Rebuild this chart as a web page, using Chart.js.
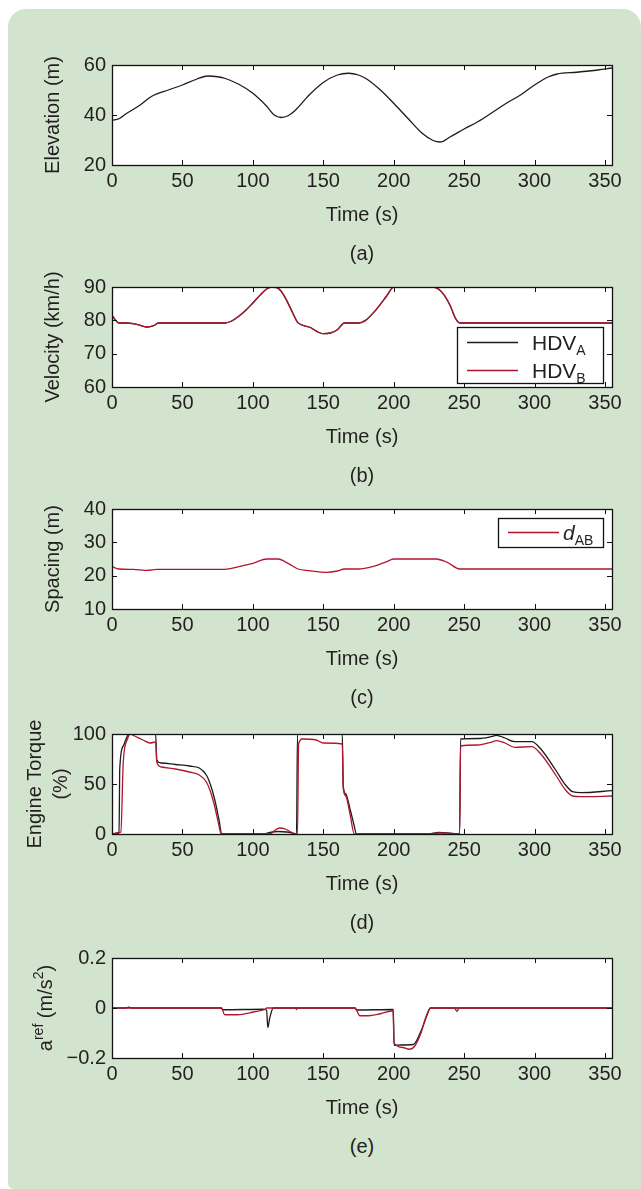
<!DOCTYPE html>
<html>
<head>
<meta charset="utf-8">
<script src="https://cdn.jsdelivr.net/npm/chart.js@4.4.0/dist/chart.umd.min.js"></script>
<style>
  body { margin: 0; background: #fff; width: 641px; height: 1189px; position: relative; overflow: hidden;
         font-family: 'Liberation Sans', Arial, Helvetica, sans-serif; }
  #panel { position: absolute; left: 8px; top: 9px; width: 633px; height: 1180px; background: #d3e4ce;
           border-radius: 18px 18px 0 6px; }
  canvas { position: absolute; left: 0; }
  .cap { position: absolute; left: 112px; width: 500px; text-align: center; font-size: 20px;
         line-height: 24px; color: #231f20; }
</style>
</head>
<body>
<div id="panel"></div>
<canvas id="chA" width="641" height="200" style="top:35px"></canvas>
<canvas id="chB" width="641" height="200" style="top:257px"></canvas>
<canvas id="chC" width="641" height="200" style="top:479px"></canvas>
<canvas id="chD" width="641" height="200" style="top:704px"></canvas>
<canvas id="chE" width="641" height="200" style="top:928px"></canvas>
<div class="cap" style="top:241px">(a)</div>
<div class="cap" style="top:463px">(b)</div>
<div class="cap" style="top:685px">(c)</div>
<div class="cap" style="top:910px">(d)</div>
<div class="cap" style="top:1134px">(e)</div>
<script>
// ---- data ----
var timeTicks = [0, 50, 100, 150, 200, 250, 300, 350];

// (a) elevation
var elevTime = [0, 5, 10, 20, 28, 40, 50, 60, 68, 75, 80, 90, 100, 110, 115, 120, 125, 130, 140, 150,
                160, 168, 175, 180, 190, 200, 210, 220, 228, 233, 240, 250, 260, 270, 280, 290, 300, 310, 316, 330,
                345, 355];
var elevation = [37.9, 38.5, 40.5, 44, 47.4, 50, 52, 54.3, 55.6, 55.3, 54.7, 52.3, 48.7, 43.4, 40.1, 39, 39.7, 41.8, 48, 53,
                 56, 56.7, 56, 54.7, 50.3, 44.7, 38.7, 32.8, 29.8, 29.2, 31.2, 34.4, 37.4, 41, 44.7, 48, 52, 55.3, 56.4, 57.1,
                 58, 58.8];
var elevTicks = [20, 40, 60];

// (b) velocity
var velTime = [0, 2, 5, 10, 15, 20, 25, 30, 33, 60, 80, 85, 90, 95, 100, 105, 110, 113, 117, 120,
               124, 128, 132, 140, 150, 155, 160, 165, 175, 180, 185, 190, 195, 200, 228, 232, 236, 240, 244, 247, 355];
var velA = [81.5, 80.3, 79.2, 79.2, 79.0, 78.5, 78.0, 78.5, 79.2, 79.2, 79.2, 79.8, 81.2, 83, 85.2, 87.5, 89.5, 90, 89.8, 88.8,
            86, 82.5, 79.3, 78, 76, 76.2, 77.2, 79.2, 79.2, 80, 82, 84.5, 87.3, 90, 90, 89.3, 87.5, 84.5, 80.5, 79.2, 79.2];
var velB = [81.5, 80.3, 79.2, 79.2, 79.0, 78.5, 78.0, 78.5, 79.2, 79.2, 79.2, 79.8, 81.2, 83, 85.2, 87.5, 89.5, 90, 89.8, 88.8,
            86, 82.5, 79.3, 78, 76, 76.2, 77.2, 79.2, 79.2, 80, 82, 84.5, 87.3, 90, 90, 89.3, 87.5, 84.5, 80.5, 79.2, 79.2];
var velTicks = [60, 70, 80, 90];

// (c) spacing
var spTime = [0, 5, 15, 25, 32, 80, 90, 100, 110, 118, 125, 132, 140, 152, 160, 165, 175, 185, 195, 200,
              230, 238, 247, 355];
var spacing = [22.7, 22, 21.9, 21.6, 21.9, 21.9, 22.7, 23.7, 25, 25, 23.7, 22, 21.5, 21, 21.4, 22, 22, 22.7, 24.2, 25,
               25, 24, 22, 22];
var spTicks = [10, 20, 30, 40];

// (d) engine torque
var tqTimeA = [0, 5, 5.5, 8, 10, 12, 31, 31.8, 35, 45, 55, 62, 67, 70, 73, 76, 78, 108, 112, 118,
               124, 128, 131, 131.7, 163.5, 164.2, 166, 169, 172, 173.5, 225, 232, 238, 244, 246.8, 247.5, 260, 269, 273, 279,
               286, 298, 304, 315, 322, 327, 333, 355];
var torqueA = [0, 1, 65, 88, 95, 100, 100, 74, 71, 69.5, 68, 66, 59, 49, 34, 14, 0, 0, 1.5, 2.5,
               2, 1, 0, 100, 100, 48, 40, 25, 8, 0, 0, 1.5, 1.2, 0.3, 0, 95, 95.5, 97.3, 98.7, 96,
               92.3, 92.3, 85.7, 64, 49, 42.3, 41.3, 43.3];
var tqTimeB = [0, 5, 6.3, 8, 11, 13, 16, 22, 27, 31, 31.8, 35, 45, 55, 62, 67, 70, 73, 76, 77.5,
               112, 116, 119, 123, 127, 130, 131.7, 132.5, 135, 145, 150, 163.5, 164.2, 166, 169, 172, 225, 232, 238, 244,
               246.8, 247.5, 260, 269, 273, 279, 286, 298, 304, 315, 322, 327, 333, 355];
var torqueB = [0, 1.5, 2, 72, 95, 100, 98, 94, 91, 92, 72, 67, 65, 62, 59, 52, 42, 27, 8, 0,
               0, 4, 6, 5, 2, 0, 0, 90, 95, 94, 91, 90, 45, 38, 20, 0, 0, 1, 0.8, 0.3,
               0, 88, 89, 91.7, 93.3, 91, 86.7, 87.3, 80.7, 59, 44, 38, 37.3, 38];
var tqTicks = [0, 50, 100];

// (e) reference acceleration
var accTimeA = [0, 10, 12, 14, 77.7, 78.5, 108, 109.8, 110.6, 112, 114.5, 172.5, 173.5, 199.7, 200.3, 205, 214, 219.5, 224, 226, 355];
var accA = [0, 0, 0.003, 0, 0, -0.007, -0.005, -0.01, -0.078, -0.04, 0, 0, -0.008, -0.006, -0.149, -0.148, -0.146, -0.091, -0.024, 0, 0];
var accTimeB = [0, 77.7, 80, 89, 100.6, 108.7, 110, 130.5, 131, 131.5, 172.5, 176, 182, 190.5, 199.5, 200.3, 206.5, 211, 215, 219.5,
                222, 225, 227, 243, 245, 246.5, 355];
var accB = [0, 0, -0.027, -0.027, -0.016, -0.005, 0, 0, -0.006, 0, 0, -0.031, -0.031, -0.023, -0.011, -0.14, -0.158, -0.165, -0.152, -0.098,
            -0.051, -0.007, 0, 0, -0.013, 0, 0];
var accTicks = [-0.2, 0, 0.2];
var accTickLabels = ['\u22120.2', '0', '0.2'];

// ---- styling ----
var FONT = "'Liberation Sans', Arial, Helvetica, sans-serif";
var TXT = '#231f20';
var BLACK = '#1c1c1c';
var RED = '#b1162f';

function pts(t, v) {
    return t.map(function (x, i) { return {x: x, y: v[i]}; });
}

function line(data, color, order) {
    return {data: data, borderColor: color, borderWidth: 1.3, pointRadius: 0, order: order,
            cubicInterpolationMode: 'monotone', fill: false};
}

// white plot area, black box and inward MATLAB-style ticks
var boxTicks = {
    id: 'boxTicks',
    beforeDatasetsDraw: function (chart) {
        var a = chart.chartArea, ctx = chart.ctx;
        ctx.save();
        ctx.fillStyle = '#fff';
        ctx.fillRect(a.left, a.top, a.right - a.left, a.bottom - a.top);
        ctx.restore();
    },
    afterDatasetsDraw: function (chart) {
        var a = chart.chartArea, ctx = chart.ctx, len = 5;
        ctx.save();
        ctx.strokeStyle = '#111';
        ctx.lineWidth = 1;
        ctx.beginPath();
        chart.scales.x.ticks.forEach(function (t) {
            var px = Math.round(chart.scales.x.getPixelForValue(t.value)) + 0.5;
            ctx.moveTo(px, a.bottom); ctx.lineTo(px, a.bottom - len);
            ctx.moveTo(px, a.top); ctx.lineTo(px, a.top + len);
        });
        chart.scales.y.ticks.forEach(function (t) {
            var py = Math.round(chart.scales.y.getPixelForValue(t.value)) + 0.5;
            ctx.moveTo(a.left, py); ctx.lineTo(a.left + len, py);
            ctx.moveTo(a.right, py); ctx.lineTo(a.right - len, py);
        });
        ctx.stroke();
        ctx.lineWidth = 1.3;
        ctx.strokeRect(Math.round(a.left) + 0.5, Math.round(a.top) + 0.5,
                       Math.round(a.right - a.left), Math.round(a.bottom - a.top));
        ctx.restore();
    }
};

// text with sub/superscripts; parts = [{t, size, dy, italic}]
function richText(ctx, parts, x, y) {
    var total = 0;
    parts.forEach(function (p) {
        ctx.font = (p.italic ? 'italic ' : '') + p.size + 'px ' + FONT;
        p.w = ctx.measureText(p.t).width;
        total += p.w;
    });
    var cx = x - total / 2;
    parts.forEach(function (p) {
        ctx.font = (p.italic ? 'italic ' : '') + p.size + 'px ' + FONT;
        ctx.fillText(p.t, cx, y + (p.dy || 0));
        cx += p.w;
    });
    return total;
}

function legendBox(chart, box, items) {
    var ctx = chart.ctx, a = chart.chartArea;
    var l = a.right - box.r - box.w, t = a.top + box.t;
    ctx.save();
    ctx.fillStyle = '#fff';
    ctx.fillRect(l, t, box.w, box.h);
    ctx.strokeStyle = '#111';
    ctx.lineWidth = 1.3;
    ctx.strokeRect(l + 0.5, t + 0.5, box.w, box.h);
    items.forEach(function (it) {
        var y = t + it.y;
        ctx.strokeStyle = it.color;
        ctx.lineWidth = 1.3;
        ctx.beginPath();
        ctx.moveTo(l + 10, y + 0.5); ctx.lineTo(l + 61, y + 0.5);
        ctx.stroke();
        ctx.fillStyle = TXT;
        ctx.textBaseline = 'alphabetic';
        ctx.textAlign = 'left';
        var w = 0;
        it.parts.forEach(function (p) {
            ctx.font = (p.italic ? 'italic ' : '') + p.size + 'px ' + FONT;
            ctx.fillText(p.t, l + it.tx + w, y + 7.5 + (p.dy || 0));
            w += ctx.measureText(p.t).width;
        });
    });
    ctx.restore();
}

function yScale(min, max, ticks, labels, title, titlePad, lh) {
    return {
        type: 'linear', min: min, max: max,
        afterBuildTicks: function (s) { s.ticks = ticks.map(function (v) { return {value: v}; }); },
        afterFit: function (s) { s.width = 112; s.paddingTop = 0; s.paddingBottom = 0; },
        grid: {display: false, drawTicks: false},
        border: {display: false},
        ticks: {padding: 6, color: TXT, font: {family: FONT, size: 20},
                callback: function (v, i) { return labels ? labels[i] : String(v); }},
        title: title ? {display: true, text: title, color: TXT,
                        font: {family: FONT, size: 20, lineHeight: lh || 1.2},
                        padding: {top: titlePad, bottom: 0}} : {display: false}
    };
}

function xScale() {
    return {
        type: 'linear', min: 0, max: 355,
        afterBuildTicks: function (s) { s.ticks = timeTicks.map(function (v) { return {value: v}; }); },
        afterFit: function (s) { s.height = 70; s.paddingLeft = 0; s.paddingRight = 0; },
        grid: {display: false, drawTicks: false},
        border: {display: false},
        ticks: {padding: 4, maxRotation: 0, autoSkip: false, color: TXT, font: {family: FONT, size: 20}},
        title: {display: true, text: 'Time (s)', color: TXT, font: {family: FONT, size: 20},
                padding: {top: 0, bottom: 8}}
    };
}

function makeChart(id, datasets, y, extra) {
    var plugins = [boxTicks];
    if (extra) plugins.push({id: id + 'extra', afterDatasetsDraw: extra});
    return new Chart(document.getElementById(id), {
        type: 'line',
        data: {datasets: datasets},
        options: {
            responsive: false, animation: false, devicePixelRatio: 1,
            layout: {padding: {top: 30, right: 29, left: 0, bottom: 0}},
            plugins: {legend: {display: false}, tooltip: {enabled: false}},
            scales: {x: xScale(), y: y}
        },
        plugins: plugins
    });
}

// (a)
makeChart('chA', [line(pts(elevTime, elevation), BLACK, 0)],
    yScale(20, 60, elevTicks, null, 'Elevation (m)', 41));

// (b)
makeChart('chB', [line(pts(velTime, velA), BLACK, 1), line(pts(velTime, velB), RED, 0)],
    yScale(60, 90, velTicks, null, 'Velocity (km/h)', 41),
    function (chart) {
        legendBox(chart, {r: 9, w: 146, t: 40, h: 56}, [
            {color: BLACK, y: 15, tx: 75, parts: [{t: 'HDV', size: 21}, {t: 'A', size: 14, dy: 5}]},
            {color: RED, y: 43, tx: 75, parts: [{t: 'HDV', size: 21}, {t: 'B', size: 14, dy: 5}]}
        ]);
    });

// (c)
makeChart('chC', [line(pts(spTime, spacing), RED, 0)],
    yScale(10, 40, spTicks, null, 'Spacing (m)', 41),
    function (chart) {
        legendBox(chart, {r: 9, w: 105, t: 9, h: 29}, [
            {color: RED, y: 14, tx: 65, parts: [{t: 'd', size: 21, italic: true}, {t: 'AB', size: 14, dy: 5}]}
        ]);
    });

// (d)
makeChart('chD', [line(pts(tqTimeA, torqueA), BLACK, 1), line(pts(tqTimeB, torqueB), RED, 0)],
    yScale(0, 100, tqTicks, null, ['Engine Torque', '(%)'], 22, 1.3));

// (e)
makeChart('chE', [line(pts(accTimeA, accA), BLACK, 1), line(pts(accTimeB, accB), RED, 0)],
    yScale(-0.2, 0.2, accTicks, accTickLabels, null, 0),
    function (chart) {
        var a = chart.chartArea, ctx = chart.ctx;
        ctx.save();
        ctx.translate(45, (a.top + a.bottom) / 2);
        ctx.rotate(-Math.PI / 2);
        ctx.fillStyle = TXT;
        ctx.textBaseline = 'alphabetic';
        ctx.textAlign = 'left';
        richText(ctx, [
            {t: 'a', size: 20}, {t: 'ref', size: 14, dy: -9},
            {t: ' (m/s', size: 20}, {t: '2', size: 14, dy: -9}, {t: ')', size: 20}
        ], 0, 7);
        ctx.restore();
    });
</script>
</body>
</html>
